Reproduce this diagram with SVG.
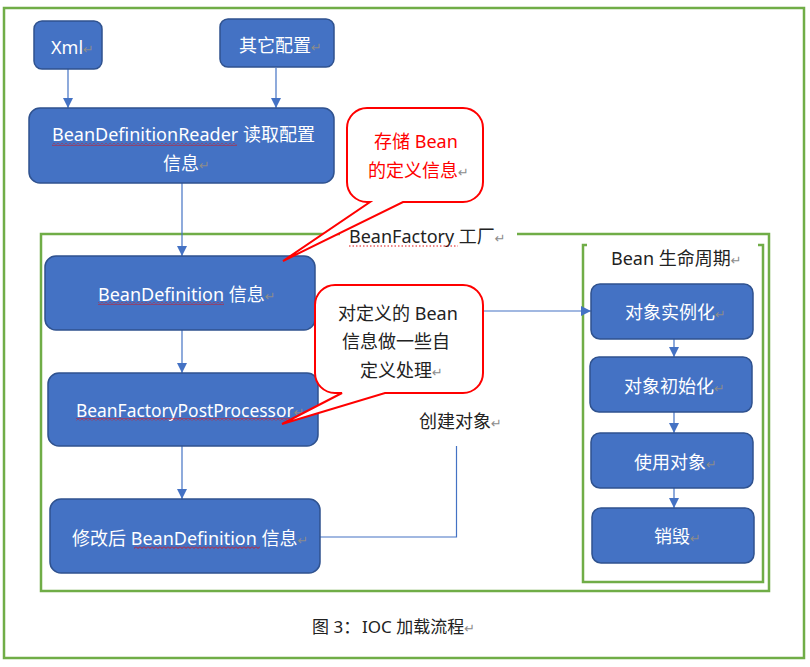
<svg xmlns="http://www.w3.org/2000/svg" width="810" height="667" viewBox="0 0 810 667">
<style>
.frame{fill:none;stroke:#70AD47;stroke-width:2.5}
.node{fill:#4472C4;stroke:#2F528F;stroke-width:1.5}
.conn{fill:none;stroke:#4472C4;stroke-width:1.2}
.callout{fill:#FFFFFF;stroke:#FF0000;stroke-width:2}
text{font-family:"Noto Sans","Noto Sans CJK SC",sans-serif;font-size:18px}
.w{fill:#FFFFFF}
.k{fill:#222222}
.r{fill:#FF0000}
.pm{fill:#8C8C8C;font-family:"DejaVu Sans",sans-serif;font-size:13px}
.dots{fill:none;stroke:#E01010;stroke-width:1;stroke-dasharray:1.5 2}
</style>
<defs>
<marker id="arr" markerUnits="userSpaceOnUse" markerWidth="10" markerHeight="10" refX="10" refY="5" orient="auto">
<path d="M0,0 L10,5 L0,10 Z" fill="#4472C4"/>
</marker>
<pattern id="zig" patternUnits="userSpaceOnUse" width="4" height="3">
<polyline points="0,0.5 2,2.5 4,0.5" fill="none" stroke="#E01010" stroke-width="0.9"/>
</pattern>
</defs>

<!-- frames -->
<rect class="frame" x="4" y="8" width="800" height="650"/>
<path class="frame" d="M340,234 H41 V591 H769 V234 H517" stroke-width="2"/>
<path class="frame" d="M587,245 H583 V582 H763 V245 H758" stroke-width="2"/>

<!-- connectors -->
<g id="connectors">
<line class="conn" x1="68" y1="69" x2="68" y2="108" marker-end="url(#arr)"/>
<line class="conn" x1="276" y1="68" x2="276" y2="108" marker-end="url(#arr)"/>
<line class="conn" x1="182" y1="183" x2="182" y2="256" marker-end="url(#arr)"/>
<line class="conn" x1="182" y1="330" x2="182" y2="373" marker-end="url(#arr)"/>
<line class="conn" x1="182" y1="446" x2="182" y2="499" marker-end="url(#arr)"/>
<polyline class="conn" points="320,537 456.5,537 456.5,311 591,311" marker-end="url(#arr)"/>
<line class="conn" x1="674" y1="339" x2="674" y2="357" marker-end="url(#arr)"/>
<line class="conn" x1="674" y1="412" x2="674" y2="433" marker-end="url(#arr)"/>
<line class="conn" x1="674" y1="488" x2="674" y2="508" marker-end="url(#arr)"/>
</g>

<!-- nodes -->
<g id="xml">
<rect class="node" x="34" y="21" width="68" height="48" rx="8"/>
<text class="w" x="51" y="54">Xml<tspan class="pm">↵</tspan></text>
</g>
<g id="other-config">
<rect class="node" x="220" y="19" width="114" height="48" rx="8"/>
<text class="w" x="239" y="52">其它配置<tspan class="pm">↵</tspan></text>
</g>
<g id="reader">
<rect class="node" x="29" y="108" width="305" height="75" rx="11"/>
<text class="w" x="52" y="141">BeanDefinitionReader 读取配置</text>
<text class="w" x="163" y="170">信息<tspan class="pm">↵</tspan></text>
<rect x="52" y="143" width="185" height="3" fill="url(#zig)"/>
</g>
<g id="bean-definition">
<rect class="node" x="45" y="256" width="270" height="74" rx="11"/>
<text class="w" x="98" y="301">BeanDefinition 信息<tspan class="pm">↵</tspan></text>
<rect x="98" y="302" width="126" height="3" fill="url(#zig)"/>
</g>
<g id="post-processor">
<rect class="node" x="48" y="373" width="270" height="73" rx="11"/>
<text class="w" x="76" y="417" style="font-size:17.4px">BeanFactoryPostProcessor<tspan class="pm">↵</tspan></text>
<rect x="76" y="418" width="214" height="3" fill="url(#zig)"/>
</g>
<g id="modified-definition">
<rect class="node" x="50" y="499" width="270" height="74" rx="11"/>
<text class="w" x="72" y="545">修改后 BeanDefinition 信息<tspan class="pm">↵</tspan></text>
<rect x="134" y="546" width="126" height="3" fill="url(#zig)"/>
</g>
<g id="instantiate">
<rect class="node" x="591" y="284" width="162" height="55" rx="9"/>
<text class="w" x="625" y="319">对象实例化<tspan class="pm">↵</tspan></text>
</g>
<g id="initialize">
<rect class="node" x="590" y="357" width="162" height="55" rx="9"/>
<text class="w" x="624" y="393">对象初始化<tspan class="pm">↵</tspan></text>
</g>
<g id="use">
<rect class="node" x="591" y="433" width="162" height="55" rx="9"/>
<text class="w" x="634" y="469">使用对象<tspan class="pm">↵</tspan></text>
</g>
<g id="destroy">
<rect class="node" x="592" y="508" width="162" height="55" rx="9"/>
<text class="w" x="654" y="543">销毁<tspan class="pm">↵</tspan></text>
</g>

<!-- labels -->
<g id="beanfactory-label">
<text class="k" x="349" y="243">BeanFactory 工厂<tspan class="pm">↵</tspan></text>
<path class="dots" d="M349,246 H458"/>
</g>
<g id="lifecycle-label">
<text class="k" x="611" y="265">Bean 生命周期<tspan class="pm">↵</tspan></text>
</g>
<g id="create-label">
<rect x="412" y="394" width="96" height="52" fill="#FFFFFF"/>
<text class="k" x="419" y="428">创建对象<tspan class="pm">↵</tspan></text>
</g>

<!-- callouts -->
<g id="callout-store">
<path class="callout" d="M367,108 H463 A20,20 0 0 1 483,128 V182 A20,20 0 0 1 463,202 H403 L283,261 L370,202 H367 A20,20 0 0 1 347,182 V128 A20,20 0 0 1 367,108 Z"/>
<text class="r" x="374" y="148">存储 Bean</text>
<text class="r" x="368" y="177">的定义信息<tspan class="pm">↵</tspan></text>
</g>
<g id="callout-custom">
<path class="callout" d="M335,285 H463 A20,20 0 0 1 483,305 V373 A20,20 0 0 1 463,393 H385 L282,424 L342,393 H335 A20,20 0 0 1 315,373 V305 A20,20 0 0 1 335,285 Z"/>
<text class="k" x="338" y="320">对定义的 Bean</text>
<text class="k" x="342" y="348">信息做一些自</text>
<text class="k" x="360" y="377">定义处理<tspan class="pm">↵</tspan></text>
</g>

<!-- caption -->
<text class="k" x="312" y="633" style="font-size:17px">图 3：<tspan x="362">IOC 加载流程</tspan><tspan class="pm">↵</tspan></text>
</svg>
